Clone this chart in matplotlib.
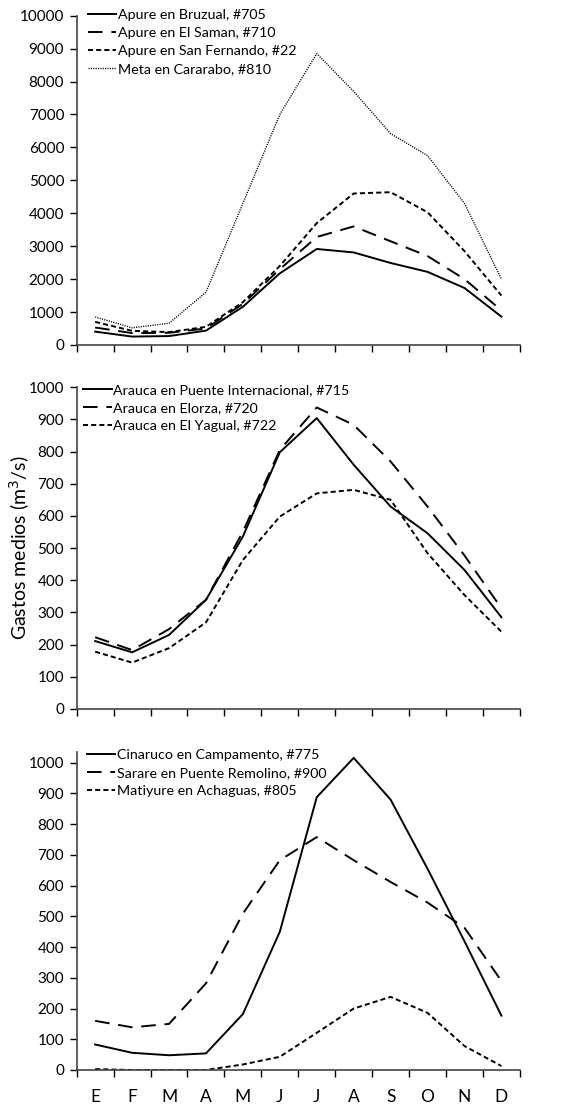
import numpy as np
import matplotlib.pyplot as plt

plt.rcParams['font.family'] = ['Lato', 'DejaVu Sans']

months = ["E", "F", "M", "A", "M", "J", "J", "A", "S", "O", "N", "D"]

# panel 1 (m3/s)
bruzual = [405, 255, 270, 435, 1160, 2175, 2915, 2810, 2490, 2220, 1730, 860]
el_saman = [530, 360, 370, 500, 1250, 2300, 3280, 3600, 3150, 2700, 2000, 1050]
san_fernando = [700, 430, 390, 550, 1300, 2400, 3700, 4600, 4640, 4030, 2850, 1500]
cararabo = [850, 520, 660, 1600, 4300, 7000, 8850, 7700, 6420, 5750, 4300, 2000]

# panel 2
puente_int = [211, 176, 230, 339, 536, 798, 904, 759, 629, 546, 432, 285]
elorza = [223, 183, 248, 339, 551, 805, 937, 883, 769, 629, 477, 313]
el_yagual = [178, 144, 189, 269, 463, 598, 670, 681, 650, 484, 354, 240]

# panel 3
cinaruco = [83, 56, 48, 54, 182, 450, 888, 1016, 880, 655, 419, 177]
sarare = [160, 139, 150, 282, 509, 683, 758, 683, 612, 545, 463, 290]
matiyure = [3, 0, 0, 0, 18, 43, 121, 200, 238, 186, 78, 13]

SOLID = '-'
LONG = (0, (7.5, 4.5))
SHORT = (0, (2.6, 1.6))
DOT = (0, (0.8, 0.9))

x = np.arange(1, 13)

fig = plt.figure(figsize=(5.66, 11.06), dpi=100)
left, width = 0.1355, 0.783
ax1 = fig.add_axes([left, 0.6881, width, 0.2977])
ax2 = fig.add_axes([left, 0.3590, width, 0.2909])
ax3 = fig.add_axes([left, 0.03255, width, 0.2875])


def style_axis(ax, ymax, yticks, show_labels):
    ax.set_xlim(0.5, 12.5)
    ax.set_ylim(0, ymax)
    ax.set_yticks(yticks)
    ax.set_xticks(np.arange(0.5, 13, 1))
    ax.set_xticklabels([])
    ax.set_xticks(x, minor=True)
    if show_labels:
        ax.set_xticklabels(months, minor=True)
    ax.tick_params(axis='x', which='minor', length=0, pad=14, labelsize=12.5)
    ax.tick_params(axis='x', which='major', direction='out', length=5, width=1)
    ax.tick_params(axis='y', direction='out', length=5, width=1, labelsize=11, pad=4)
    for s in ['top', 'right']:
        ax.spines[s].set_visible(False)
    for s in ['left', 'bottom']:
        ax.spines[s].set_color('#444444')
        ax.spines[s].set_linewidth(1.2)


lw = 1.4
ax1.plot(x, bruzual, color='k', lw=lw, ls=SOLID, label="Apure en Bruzual, #705")
ax1.plot(x, el_saman, color='k', lw=lw, ls=LONG, label="Apure en El Saman, #710")
ax1.plot(x, san_fernando, color='k', lw=lw, ls=SHORT, label="Apure en San Fernando, #22")
ax1.plot(x, cararabo, color='k', lw=1.0, ls=DOT, label="Meta en Cararabo, #810")
style_axis(ax1, 10000, np.arange(0, 10001, 1000), False)

ax2.plot(x, puente_int, color='k', lw=lw, ls=SOLID, label="Arauca en Puente Internacional, #715")
ax2.plot(x, elorza, color='k', lw=lw, ls=LONG, label="Arauca en Elorza, #720")
ax2.plot(x, el_yagual, color='k', lw=lw, ls=SHORT, label="Arauca en El Yagual, #722")
style_axis(ax2, 1000, np.arange(0, 1001, 100), False)
ax2.set_ylabel("Gastos medios (m$^3$/s)", fontsize=14)
ax2.yaxis.set_label_coords(-0.10, 0.5)

ax3.plot(x, cinaruco, color='k', lw=lw, ls=SOLID, label="Cinaruco en Campamento, #775")
ax3.plot(x, sarare, color='k', lw=lw, ls=LONG, label="Sarare en Puente Remolino, #900")
ax3.plot(x, matiyure, color='k', lw=lw, ls=SHORT, label="Matiyure en Achaguas, #805")
style_axis(ax3, 1035, np.arange(0, 1001, 100), True)

for ax, anchor in [(ax1, (0.025, 1.021)), (ax2, (0.014, 1.011)), (ax3, (0.023, 1.01))]:
    ax.legend(loc='upper left', bbox_to_anchor=anchor, frameon=False, fontsize=10.3,
              handlelength=2.0, handletextpad=0.1, labelspacing=0.42,
              borderaxespad=0.0, borderpad=0.0)

fig.savefig("out.png", dpi=100)
